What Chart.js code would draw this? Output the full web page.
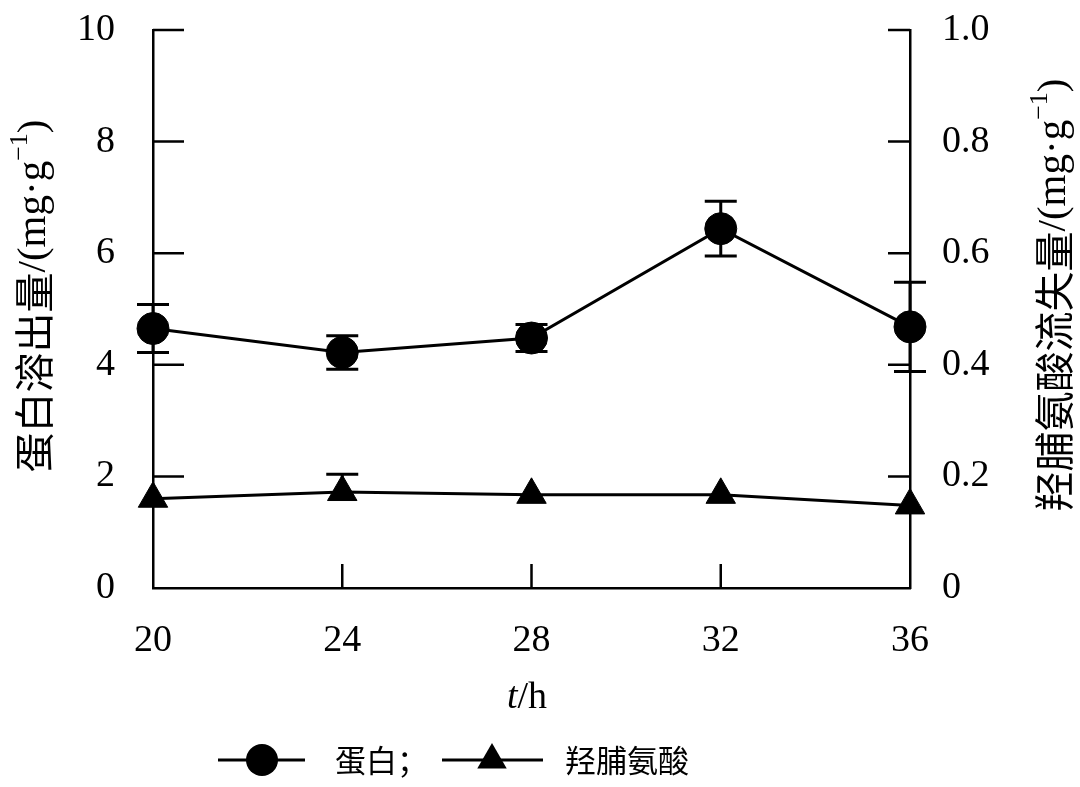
<!DOCTYPE html>
<html>
<head>
<meta charset="utf-8">
<script src="https://cdn.jsdelivr.net/npm/chart.js@4.4.1/dist/chart.umd.min.js"></script>
<style>
  html, body { margin: 0; padding: 0; background: #fff; }
  #wrap { width: 1080px; height: 787px; }
</style>
</head>
<body>
<div id="wrap"><canvas id="mycanvas" width="1080" height="787"></canvas></div>
<script>
// data
var hours = [20, 24, 28, 32, 36];
var protein = [4.65, 4.22, 4.48, 6.44, 4.68];        // mg/g, left axis
var proteinErr = [0.43, 0.30, 0.24, 0.49, 0.80];
var hyp = [0.160, 0.172, 0.167, 0.167, 0.148];        // mg/g, right axis
var hypErrUp = [0, 0.032, 0, 0, 0];
var hypErrDown = [0, 0, 0, 0, 0];
var leftTicks = [0, 2, 4, 6, 8, 10];
var rightTicks = [0, 0.2, 0.4, 0.6, 0.8, 1.0];
var xTicks = [20, 24, 28, 32, 36];

var serif = "'Liberation Serif', 'Times New Roman', 'Noto Sans CJK SC', serif";
var cjk = "'Noto Sans CJK SC', 'Liberation Serif', serif";

function pts(xs, ys) {
  var out = [];
  for (var i = 0; i < xs.length; i++) out.push({x: xs[i], y: ys[i]});
  return out;
}

// error bars, inward ticks, axis titles and legend
var extras = {
  id: 'extras',
  beforeDatasetsDraw: function(chart) {
    var ctx = chart.ctx, sx = chart.scales.x;
    ctx.save();
    ctx.strokeStyle = '#000';
    ctx.lineWidth = 3;
    function bars(vals, up, down, sc) {
      for (var i = 0; i < vals.length; i++) {
        if (!up[i] && !down[i]) continue;
        var px = sx.getPixelForValue(hours[i]);
        var top = sc.getPixelForValue(vals[i] + up[i]);
        var bot = sc.getPixelForValue(vals[i] - down[i]);
        ctx.beginPath();
        ctx.moveTo(px, top); ctx.lineTo(px, bot);
        if (up[i]) { ctx.moveTo(px - 16, top); ctx.lineTo(px + 16, top); }
        if (down[i]) { ctx.moveTo(px - 16, bot); ctx.lineTo(px + 16, bot); }
        ctx.stroke();
      }
    }
    bars(protein, proteinErr, proteinErr, chart.scales.y);
    bars(hyp, hypErrUp, hypErrDown, chart.scales.y1);

    // inward tick marks
    var a = chart.chartArea;
    ctx.lineWidth = 2.5;
    ctx.beginPath();
    leftTicks.forEach(function(v) {
      if (v === 0) return;
      var py = chart.scales.y.getPixelForValue(v);
      ctx.moveTo(a.left, py); ctx.lineTo(a.left + 31, py);
    });
    rightTicks.forEach(function(v) {
      if (v === 0) return;
      var py = chart.scales.y1.getPixelForValue(v);
      ctx.moveTo(a.right, py); ctx.lineTo(a.right - 22, py);
    });
    xTicks.forEach(function(v) {
      if (v === xTicks[0] || v === xTicks[xTicks.length - 1]) return;
      var px = sx.getPixelForValue(v);
      ctx.moveTo(px, a.bottom); ctx.lineTo(px, a.bottom - 24);
    });
    ctx.stroke();
    ctx.restore();
  },
  afterDraw: function(chart) {
    var ctx = chart.ctx;
    ctx.save();
    ctx.fillStyle = '#000';
    ctx.textBaseline = 'middle';

    // rotated y titles with superscript -1
    function ytitle(cx, cy, label) {
      var parts = [
        {t: label, f: '40px ' + cjk, dy: 0},
        {t: '/(mg\u00b7g', f: '41px ' + serif, dy: 0},
        {t: '\u22121', f: '26px ' + serif, dy: -14},
        {t: ')', f: '41px ' + serif, dy: 0}
      ];
      var w = 0;
      parts.forEach(function(p) { ctx.font = p.f; p.w = ctx.measureText(p.t).width; w += p.w; });
      ctx.save();
      ctx.translate(cx, cy);
      ctx.rotate(-Math.PI / 2);
      var x = -w / 2;
      ctx.textAlign = 'left';
      parts.forEach(function(p) { ctx.font = p.f; ctx.fillText(p.t, x, p.dy); x += p.w; });
      ctx.restore();
    }
    ytitle(34, 296, '蛋白溶出量');
    ytitle(1054, 295, '羟脯氨酸流失量');

    // x title t/h
    ctx.textAlign = 'left';
    ctx.font = 'italic 38px ' + serif;
    var tw = ctx.measureText('t').width;
    ctx.font = '38px ' + serif;
    var hw = ctx.measureText('/h').width;
    var x0 = 527 - (tw + hw) / 2;
    ctx.font = 'italic 38px ' + serif;
    ctx.fillText('t', x0, 698);
    ctx.font = '38px ' + serif;
    ctx.fillText('/h', x0 + tw, 698);

    // legend
    var ly = 760;
    ctx.strokeStyle = '#000';
    ctx.lineWidth = 3;
    ctx.beginPath();
    ctx.moveTo(218, ly); ctx.lineTo(305, ly);
    ctx.moveTo(442, ly); ctx.lineTo(543, ly);
    ctx.stroke();
    ctx.beginPath();
    ctx.arc(262, ly, 16, 0, Math.PI * 2);
    ctx.fill();
    var r = 17;
    ctx.beginPath();
    ctx.moveTo(492, ly - r);
    ctx.lineTo(492 + r * Math.sin(2 * Math.PI / 3), ly + r / 2);
    ctx.lineTo(492 - r * Math.sin(2 * Math.PI / 3), ly + r / 2);
    ctx.closePath();
    ctx.fill();
    ctx.font = '31px ' + cjk;
    ctx.fillText('蛋白；', 335, ly);
    ctx.fillText('羟脯氨酸', 565, ly);
    ctx.restore();
  }
};

function fitY(w) {
  return function(s) {
    s.width = w;
    s.paddingTop = 0;
    s.paddingBottom = 0;
  };
}

var ctx = document.getElementById('mycanvas');
var chart = new Chart(ctx, {
  type: 'line',
  data: {
    datasets: [
      {
        label: '蛋白',
        data: pts(hours, protein),
        yAxisID: 'y',
        borderColor: '#000',
        backgroundColor: '#000',
        borderWidth: 3,
        pointStyle: 'circle',
        pointRadius: 16,
        pointBorderWidth: 1,
        tension: 0,
        clip: false
      },
      {
        label: '羟脯氨酸',
        data: pts(hours, hyp),
        yAxisID: 'y1',
        borderColor: '#000',
        backgroundColor: '#000',
        borderWidth: 3,
        pointStyle: 'triangle',
        pointRadius: 17,
        pointBorderWidth: 1,
        tension: 0,
        clip: false
      }
    ]
  },
  options: {
    responsive: false,
    animation: false,
    devicePixelRatio: 1,
    layout: { padding: { top: 30, left: 0, right: 0, bottom: 0 } },
    plugins: {
      legend: { display: false },
      tooltip: { enabled: false }
    },
    scales: {
      x: {
        type: 'linear',
        min: 20, max: 36,
        afterFit: function(s) { s.height = 199; },
        afterBuildTicks: function(s) { s.ticks = xTicks.map(function(v) { return {value: v}; }); },
        ticks: { autoSkip: false, maxRotation: 0, padding: 30, color: '#000', font: { family: serif, size: 38 } },
        grid: { display: false, drawTicks: false },
        border: { display: true, color: '#000', width: 2.5 }
      },
      y: {
        position: 'left',
        min: 0, max: 10,
        afterFit: fitY(153),
        afterBuildTicks: function(s) { s.ticks = leftTicks.map(function(v) { return {value: v}; }); },
        ticks: { autoSkip: false, padding: 38, color: '#000', font: { family: serif, size: 38 } },
        grid: { display: false, drawTicks: false },
        border: { display: true, color: '#000', width: 2.5 }
      },
      y1: {
        position: 'right',
        min: 0, max: 1,
        afterFit: fitY(170),
        afterBuildTicks: function(s) { s.ticks = rightTicks.map(function(v) { return {value: v}; }); },
        ticks: {
          autoSkip: false, padding: 32, color: '#000', font: { family: serif, size: 38 },
          callback: function(v) { return v === 0 ? '0' : v.toFixed(1); }
        },
        grid: { display: false, drawTicks: false },
        border: { display: true, color: '#000', width: 2.5 }
      }
    }
  },
  plugins: [extras]
});
</script>
</body>
</html>
